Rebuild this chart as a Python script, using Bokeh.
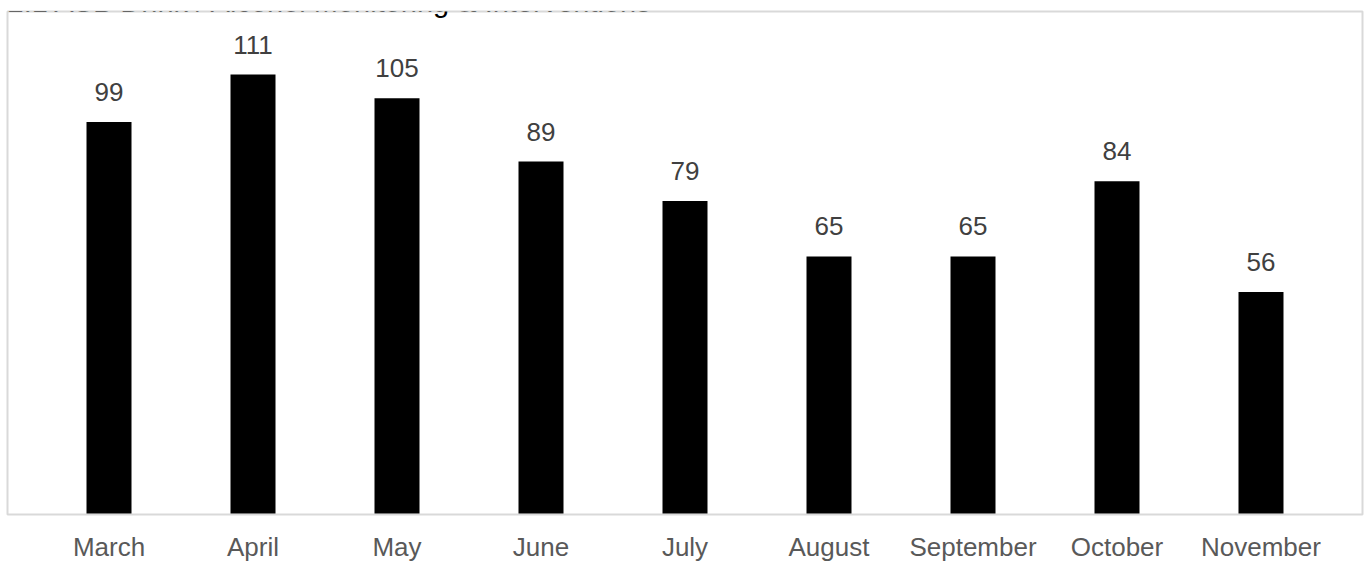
from bokeh.plotting import figure
from bokeh.models import FactorRange, Range1d, Label, ColumnDataSource
from bokeh.embed import file_html
from bokeh.resources import INLINE
from bokeh.core.properties import value

# ---- data ----
title_text = "2.1 ASB Drink / Alcohol Monitoring & Interventions"
months = ["March", "April", "May", "June", "July", "August", "September", "October", "November"]
counts = [99, 111, 105, 89, 79, 65, 65, 84, 56]
count_labels = [str(v) for v in counts]

FONT = "Liberation Sans"
W, H = 1367, 568

src = ColumnDataSource(dict(months=months, counts=counts, labels=count_labels))

x_range = FactorRange(factors=months, range_padding=0.2049, range_padding_units="absolute")
y_range = Range1d(-0.253, 126.93)

p = figure(width=W, height=H, x_range=x_range, y_range=y_range,
           output_backend="svg", toolbar_location=None, y_axis_location=None,
           min_border_left=7, min_border_right=5, min_border_top=11, min_border_bottom=54)

p.background_fill_color = "white"
p.border_fill_color = "white"
p.outline_line_color = "#d9d9d9"
p.outline_line_width = 2
p.xgrid.visible = False
p.ygrid.visible = False

ax = p.xaxis[0]
ax.axis_line_alpha = 0
ax.major_tick_line_alpha = 0
ax.minor_tick_line_alpha = 0
ax.major_tick_out = 0
ax.major_tick_in = 0
ax.major_label_standoff = 17
ax.major_label_text_font = FONT
ax.major_label_text_font_size = "26px"
ax.major_label_text_color = "#595959"

p.vbar(x="months", top="counts", width=0.3125, bottom=0, source=src,
       fill_color="black", line_color="black", line_width=0)

p.text(x="months", y="counts", text="labels", source=src,
       text_font=value(FONT), text_font_size="26px", text_color="#404040",
       text_align="center", text_baseline="alphabetic", y_offset=-30)

p.add_layout(Label(x=0, x_units="screen", y=129.3, y_units="data", text=title_text,
                   text_font=FONT, text_font_size="29px", text_color="#000000",
                   text_baseline="alphabetic"))

open("out.html", "w").write(file_html(p, INLINE))
